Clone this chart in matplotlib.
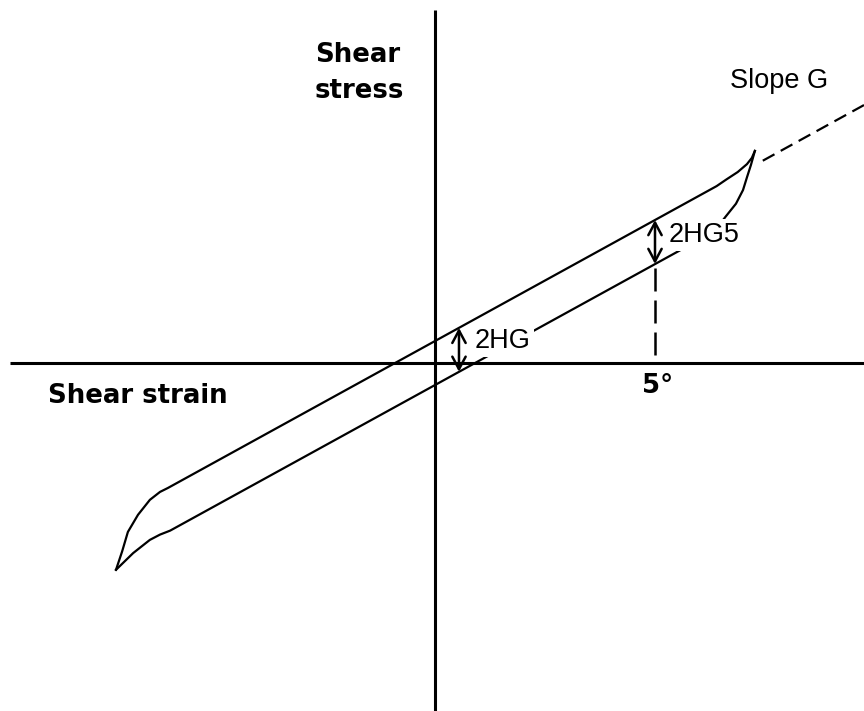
import numpy as np
import matplotlib
matplotlib.use('Agg')
import matplotlib.pyplot as plt

# hysteresis loop sketch, strain in degrees, stress in the same drawing units
G = 0.55   # elastic slope
H = 0.5    # half height of the loop at zero strain

# upper branch (loading), lower-left tip to upper-right tip
upper_x = [-7.25, -7.11, -6.98, -6.75, -6.48, -6.25, -6.07, 6.40, 6.62, 6.88, 7.09, 7.20, 7.27]
upper_y = [-4.70, -4.28, -3.84, -3.45, -3.11, -2.93, -2.84, 4.02, 4.17, 4.34, 4.52, 4.66, 4.82]

# lower branch (unloading), lower-left tip to upper-right tip
lower_x = [-7.25, -6.86, -6.48, -6.25, -6.02, 6.35, 6.60, 6.84, 7.00, 7.09, 7.18, 7.27]
lower_y = [-4.70, -4.32, -4.02, -3.90, -3.81, 2.99, 3.32, 3.62, 3.93, 4.22, 4.50, 4.82]

strain_mark = 5.0            # the 5 degree reading
slope_ext = [7.45, 9.75]     # dashed extension of slope G

fig = plt.figure(figsize=(8.64, 7.11), dpi=100)
ax = fig.add_axes([0, 0, 1, 1])
ax.set_xlim(-435 / 44, (864 - 435) / 44)
ax.set_ylim((363 - 711) / 44, 363 / 44)
ax.axis('off')

# axes cross
ax.plot([-9.66, 9.75], [0, 0], color='black', lw=2.2, solid_capstyle='butt')
ax.plot([0, 0], [-7.91, 8.02], color='black', lw=2.2, solid_capstyle='butt')

# the loop
ax.plot(upper_x, upper_y, color='black', lw=1.6, solid_joinstyle='round')
ax.plot(lower_x, lower_y, color='black', lw=1.6, solid_joinstyle='round')

# slope G continued past the tip
sx = np.array(slope_ext)
ax.plot(sx, G * sx + H, color='black', lw=1.6, linestyle=(0, (6, 3.2)))

# drop line at 5 degrees, drawn from the strain axis up to the lower branch
ax.plot([strain_mark, strain_mark], [0.18, G * strain_mark - H - 0.05],
        color='black', lw=1.8, linestyle=(0, (9.2, 3.6)))

# loop height arrows
arrow = dict(arrowstyle='<->,head_length=0.75,head_width=0.4', color='black',
             lw=1.8, shrinkA=0, shrinkB=0, mutation_scale=12)
x1 = 0.545
ax.annotate('', xy=(x1, G * x1 + H), xytext=(x1, G * x1 - H), arrowprops=arrow)
ax.annotate('', xy=(strain_mark, G * strain_mark + H),
            xytext=(strain_mark, G * strain_mark - H), arrowprops=arrow)

box = dict(boxstyle='square,pad=0.12', fc='white', ec='none')
ax.text(0.91, 0.34, '2HG', fontsize=19.5, family='Liberation Sans',
        va='baseline', ha='left', bbox=box, zorder=5)
ax.text(5.30, 2.75, '2HG5', fontsize=19.5, family='Liberation Sans',
        va='baseline', ha='left', bbox=box, zorder=5)
ax.text(6.70, 6.25, 'Slope G', fontsize=19.5, family='Liberation Sans',
        va='baseline', ha='left')

bold = dict(fontsize=18.7, family='DejaVu Sans', fontweight='bold', va='baseline')
ax.text(-2.727, 6.84, 'Shear', ha='left', **bold)
ax.text(-2.727, 6.02, 'stress', ha='left', **bold)
ax.text(-8.80, -0.91, 'Shear strain', ha='left', **bold)
ax.text(5.05, -0.68, '5°', ha='center', **bold)

fig.savefig('out.png', dpi=100)
